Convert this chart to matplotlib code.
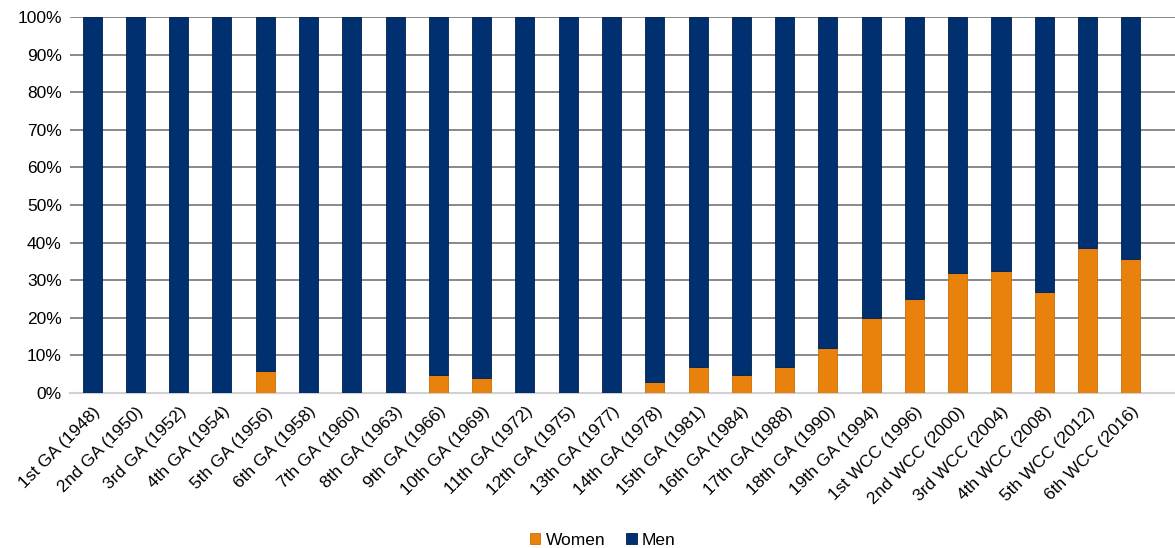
import numpy as np
import matplotlib.pyplot as plt

plt.rcParams['font.family'] = ['Liberation Sans', 'DejaVu Sans']

labels = ['1st GA (1948)', '2nd GA (1950)', '3rd GA (1952)', '4th GA (1954)',
          '5th GA (1956)', '6th GA (1958)', '7th GA (1960)', '8th GA (1963)',
          '9th GA (1966)', '10th GA (1969)', '11th GA (1972)', '12th GA (1975)',
          '13th GA (1977)', '14th GA (1978)', '15th GA (1981)', '16th GA (1984)',
          '17th GA (1988)', '18th GA (1990)', '19th GA (1994)', '1st WCC (1996)',
          '2nd WCC (2000)', '3rd WCC (2004)', '4th WCC (2008)', '5th WCC (2012)',
          '6th WCC (2016)']
women = [0, 0, 0, 0, 5.8, 0, 0, 0, 4.9, 4.0, 0, 0, 0, 2.8, 7, 4.9, 7, 12,
         20, 25, 31.8, 32.5, 26.8, 38.6, 35.6]
men = [100 - w for w in women]

orange = '#E8820C'
navy = '#00306F'

fig = plt.figure(figsize=(11.75, 5.48), dpi=100)
ax = fig.add_axes([0.0596, 0.2828, 0.9404, 0.6862])

x = np.arange(len(labels))
ax.bar(x, women, width=0.44, color=orange, edgecolor='#C86E08', linewidth=0.6,
       label='Women', zorder=3)
ax.bar(x, men, width=0.44, bottom=women, color=navy, edgecolor='#00204F',
       linewidth=0.6, label='Men', zorder=3)

ax.set_ylim(0, 100)
ax.set_xlim(-0.51, len(labels) + 0.02)
ax.set_yticks(np.arange(0, 101, 10))
ax.set_yticklabels([f'{v}%' for v in range(0, 101, 10)], fontsize=12.5)
ax.set_xticks(x)
ax.set_xticklabels(labels, rotation=45, ha='right', rotation_mode='anchor',
                   fontsize=12.5)
ax.tick_params(axis='both', length=0, pad=6)
ax.tick_params(axis='x', pad=8)

ax.yaxis.grid(True, color='#808080', linewidth=1.3, zorder=0)
ax.set_axisbelow(True)
for s in ['top', 'right', 'left']:
    ax.spines[s].set_visible(False)
ax.spines['bottom'].set_color('#D0D0D0')
ax.spines['bottom'].set_linewidth(1.5)

fig.legend(loc='lower center', bbox_to_anchor=(0.513, -0.028), ncol=2,
           frameon=False, fontsize=12.5, handlelength=0.6, handleheight=0.6,
           handletextpad=0.3, columnspacing=1.2)

fig.savefig('out.png', dpi=100)
